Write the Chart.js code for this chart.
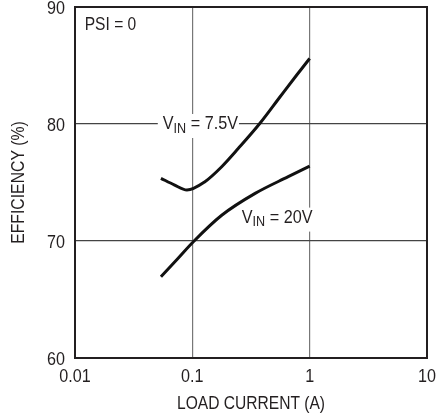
<!DOCTYPE html>
<html>
<head>
<meta charset="utf-8">
<script src="https://cdn.jsdelivr.net/npm/chart.js@4"></script>
<style>
  html, body { margin: 0; padding: 0; background: #fff; }
  #wrap { width: 436px; height: 419px; }
</style>
</head>
<body>
<div id="wrap"><canvas id="myChart" width="436" height="419"></canvas></div>
<script>
// values
var current75 = [0.054, 0.07, 0.09, 0.128, 0.178, 0.247, 0.377, 0.56, 0.776, 1.0];
var eff75 = [75.36, 74.8, 74.36, 75.07, 76.35, 77.92, 80.06, 82.33, 84.19, 85.6];
var current20 = [0.054, 0.075, 0.102, 0.178, 0.343, 0.657, 1.0];
var eff20 = [66.95, 68.49, 69.94, 72.2, 74.07, 75.5, 76.4];
var xTicks = [0.01, 0.1, 1, 10];
var xTickLabels = ['0.01', '0.1', '1', '10'];
var yTicks = [60, 70, 80, 90];
var xTitle = 'LOAD CURRENT (A)';
var yTitle = 'EFFICIENCY (%)';

// narrow look: Liberation Sans squeezed horizontally
var FONT = '"Liberation Sans", Arial, sans-serif';
var SX = 0.85;
var INK = '#231f20';

function toPoints(xs, ys) {
  var pts = [];
  for (var i = 0; i < xs.length; i++) pts.push({x: xs[i], y: ys[i]});
  return pts;
}

function txt(ctx, s, x, y, align, size, sx) {
  ctx.save();
  ctx.translate(x, y);
  ctx.scale(sx || SX, 1);
  ctx.font = size + 'px ' + FONT;
  ctx.textAlign = align;
  ctx.textBaseline = 'middle';
  ctx.fillStyle = INK;
  ctx.fillText(s, 0, 0);
  ctx.restore();
}

function drawVin(ctx, x, y, rest) {
  var k = 0.9;
  ctx.font = '18px ' + FONT;
  var w1 = ctx.measureText('V').width * k;
  var w3 = ctx.measureText(rest).width * k;
  ctx.font = '14px ' + FONT;
  var w2 = ctx.measureText('IN').width * k;
  ctx.fillStyle = '#fff';
  ctx.fillRect(x - 5, y - 10, w1 + w2 + w3 + 6, 24);
  txt(ctx, 'V', x, y, 'left', 18, k);
  txt(ctx, 'IN', x + w1, y + 5, 'left', 14, k);
  txt(ctx, rest, x + w1 + w2, y, 'left', 18, k);
}

var extras = {
  id: 'extras',
  afterDatasetsDraw: function (chart) {
    var ctx = chart.ctx;
    var xs = chart.scales.x, ys = chart.scales.y;
    var a = chart.chartArea;
    drawVin(ctx, xs.getPixelForValue(0.056), ys.getPixelForValue(80), ' = 7.5V');
    drawVin(ctx, xs.getPixelForValue(0.264), ys.getPixelForValue(72), ' = 20V');
    txt(ctx, 'PSI = 0', xs.getPixelForValue(0.0121), ys.getPixelForValue(88.5), 'left', 19, 0.82);
    // frame
    ctx.save();
    ctx.strokeStyle = INK;
    ctx.lineWidth = 2;
    ctx.strokeRect(a.left, a.top, a.right - a.left, a.bottom - a.top);
    ctx.restore();
    // tick labels
    xTicks.forEach(function (v, i) {
      txt(ctx, xTickLabels[i], xs.getPixelForValue(v), a.bottom + 19, 'center', 19);
    });
    yTicks.forEach(function (v) {
      txt(ctx, String(v), a.left - 10, ys.getPixelForValue(v) + 2, 'right', 19);
    });
    // axis titles
    txt(ctx, xTitle, (a.left + a.right) / 2, a.bottom + 46, 'center', 19, 0.82);
    ctx.save();
    ctx.translate(19, (a.top + a.bottom) / 2);
    ctx.rotate(-Math.PI / 2);
    txt(ctx, yTitle, 0, 0, 'center', 19, 0.83);
    ctx.restore();
  }
};

var ctx = document.getElementById('myChart').getContext('2d');
var chart = new Chart(ctx, {
  type: 'scatter',
  data: {
    datasets: [{
      label: 'VIN = 7.5V',
      data: toPoints(current75, eff75),
      showLine: true,
      borderColor: '#111',
      borderWidth: 3,
      pointRadius: 0,
      cubicInterpolationMode: 'monotone'
    }, {
      label: 'VIN = 20V',
      data: toPoints(current20, eff20),
      showLine: true,
      borderColor: '#111',
      borderWidth: 3,
      pointRadius: 0,
      cubicInterpolationMode: 'monotone'
    }]
  },
  options: {
    responsive: false,
    animation: false,
    layout: { padding: { left: 0, top: 7, right: 9, bottom: 0 } },
    plugins: { legend: { display: false }, tooltip: { enabled: false } },
    scales: {
      x: {
        type: 'logarithmic',
        min: 0.01,
        max: 10,
        afterBuildTicks: function (s) { s.ticks = xTicks.map(function (v) { return {value: v}; }); },
        afterFit: function (s) { s.height = 61; s.paddingLeft = 0; s.paddingRight = 0; },
        ticks: { display: false },
        grid: { color: '#777', lineWidth: 1.2, drawTicks: false },
        border: { display: false }
      },
      y: {
        min: 60,
        max: 90,
        afterBuildTicks: function (s) { s.ticks = yTicks.map(function (v) { return {value: v}; }); },
        afterFit: function (s) { s.width = 75; s.paddingTop = 0; s.paddingBottom = 0; },
        ticks: { display: false },
        grid: { color: '#444', lineWidth: 1.2, drawTicks: false },
        border: { display: false }
      }
    }
  },
  plugins: [extras]
});
</script>
</body>
</html>
